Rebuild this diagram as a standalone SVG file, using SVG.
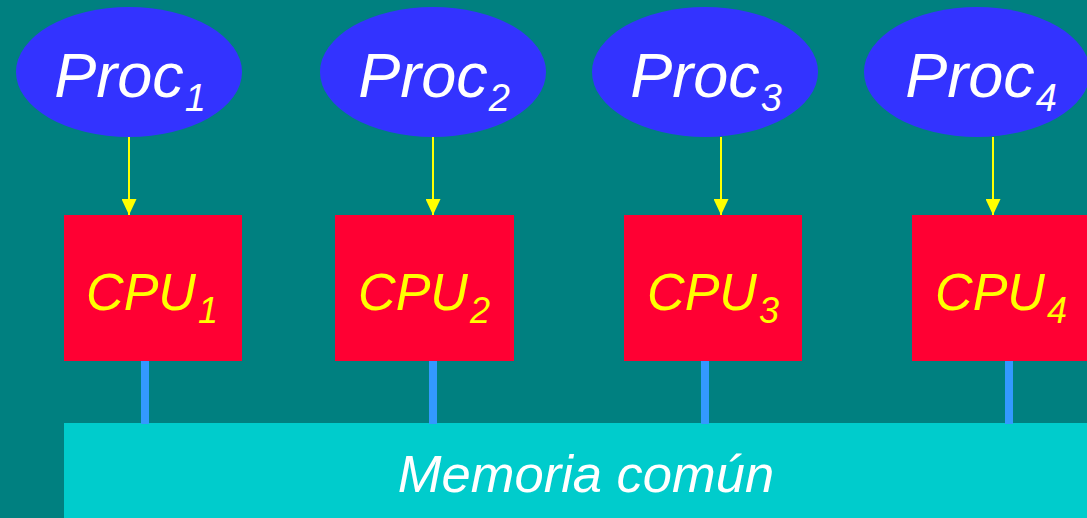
<svg xmlns="http://www.w3.org/2000/svg" width="1087" height="518" viewBox="0 0 1087 518">
<defs>
<style>
.proc{fill:#3333FF}
.cpu{fill:#FF0033}
.t{font-family:"Liberation Sans",Arial,sans-serif;font-style:italic}
.pt{fill:#FFFFFF;font-size:63px}
.ct{fill:#FFFF00;font-size:52px}
.ps{font-size:38px}
.cs{font-size:36px}
.arrow{stroke:#FFFF00;stroke-width:2;fill:none}
.bus{stroke:#3399FF;stroke-width:8}
</style>
<marker id="ah" markerWidth="16" markerHeight="15" refX="16" refY="7.5" orient="auto" markerUnits="userSpaceOnUse">
<path d="M0,0 L16,7.5 L0,15 Z" fill="#FFFF00"/>
</marker>
</defs>
<rect x="0" y="0" width="1087" height="518" fill="#008080"/>
<g id="memoria">
<rect x="64" y="423" width="1030" height="100" fill="#00CCCC"/>
<text class="t" x="586" y="492" font-size="52.5" fill="#FFFFFF" text-anchor="middle">Memoria común</text>
</g>
<g id="connectors">
<line class="arrow" x1="129" y1="137" x2="129" y2="215" marker-end="url(#ah)"/>
<line class="arrow" x1="433" y1="137" x2="433" y2="215" marker-end="url(#ah)"/>
<line class="arrow" x1="721" y1="137" x2="721" y2="215" marker-end="url(#ah)"/>
<line class="arrow" x1="993" y1="137" x2="993" y2="215" marker-end="url(#ah)"/>
<line class="bus" x1="145" y1="361" x2="145" y2="424"/>
<line class="bus" x1="433" y1="361" x2="433" y2="424"/>
<line class="bus" x1="705" y1="361" x2="705" y2="424"/>
<line class="bus" x1="1009" y1="361" x2="1009" y2="424"/>
</g>
<g id="proc1"><ellipse class="proc" cx="129" cy="72" rx="113" ry="65"/><text class="t pt" x="130" y="97" text-anchor="middle">Proc<tspan class="ps" dx="1" dy="14">1</tspan></text></g>
<g id="proc2"><ellipse class="proc" cx="433" cy="72" rx="113" ry="65"/><text class="t pt" x="434" y="97" text-anchor="middle">Proc<tspan class="ps" dx="1" dy="14">2</tspan></text></g>
<g id="proc3"><ellipse class="proc" cx="705" cy="72" rx="113" ry="65"/><text class="t pt" x="706" y="97" text-anchor="middle">Proc<tspan class="ps" dx="1" dy="14">3</tspan></text></g>
<g id="proc4"><ellipse class="proc" cx="977" cy="72" rx="113" ry="65"/><text class="t pt" x="981" y="97" text-anchor="middle">Proc<tspan class="ps" dx="1" dy="14">4</tspan></text></g>
<g id="cpu1"><rect class="cpu" x="64" y="215" width="178" height="146"/><text class="t ct" x="152" y="310" text-anchor="middle">CPU<tspan class="cs" dx="2" dy="13">1</tspan></text></g>
<g id="cpu2"><rect class="cpu" x="335" y="215" width="179" height="146"/><text class="t ct" x="424" y="310" text-anchor="middle">CPU<tspan class="cs" dx="2" dy="13">2</tspan></text></g>
<g id="cpu3"><rect class="cpu" x="624" y="215" width="178" height="146"/><text class="t ct" x="713" y="310" text-anchor="middle">CPU<tspan class="cs" dx="2" dy="13">3</tspan></text></g>
<g id="cpu4"><rect class="cpu" x="912" y="215" width="178" height="146"/><text class="t ct" x="1001" y="310" text-anchor="middle">CPU<tspan class="cs" dx="2" dy="13">4</tspan></text></g>
</svg>
